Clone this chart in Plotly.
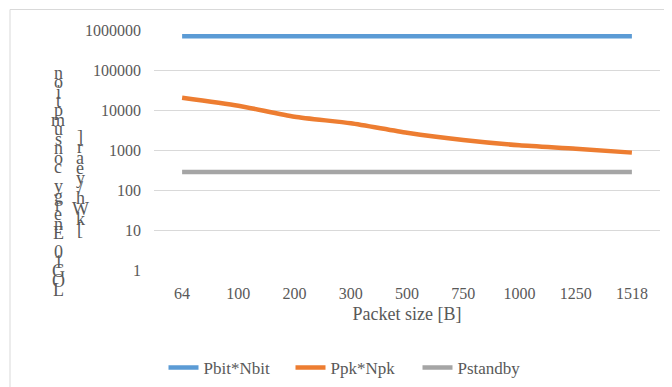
import plotly.graph_objects as go

categories = ["64", "100", "200", "300", "500", "750", "1000", "1250", "1518"]
pbit_nbit = [700000, 700000, 700000, 700000, 700000, 700000, 700000, 700000, 700000]
ppk_npk = [20300, 12800, 6800, 4650, 2700, 1780, 1310, 1080, 860]
pstandby = [282, 282, 282, 282, 282, 282, 282, 282, 282]
y_tick_vals = [1, 10, 100, 1000, 10000, 100000, 1000000]
y_tick_text = ["1", "10", "100", "1000", "10000", "100000", "1000000"]
y_title_1 = "LOG10 Energy consumption"
y_title_2 = "[kWh/year]"
x_title = "Packet size [B]"

# page body has an 8px default margin; figure size compensates for it
OFF = 8
W, H = 672 - OFF, 387 - OFF
ML, MR, MT, MB = 154 - OFF, 12, 30 - OFF, 117
PW, PH = W - ML - MR, H - MT - MB

def px(x):  # page pixel x -> paper
    return (x - OFF - ML) / PW

def py(y):  # page pixel y -> paper
    return (H - MB - (y - OFF)) / PH

FONT = "Liberation Serif"
GREY = "#595959"

fig = go.Figure()
fig.add_trace(go.Scatter(x=categories, y=pbit_nbit, mode="lines", name="Pbit*Nbit",
                         line=dict(color="#5B9BD5", width=4.5)))
fig.add_trace(go.Scatter(x=categories, y=ppk_npk, mode="lines", name="Ppk*Npk",
                         line=dict(color="#ED7D31", width=4.5, shape="spline", smoothing=0.6)))
fig.add_trace(go.Scatter(x=categories, y=pstandby, mode="lines", name="Pstandby",
                         line=dict(color="#A5A5A5", width=4.5)))

annotations = []
# stacked vertical y-axis title (characters drawn bottom to top)
for i, ch in enumerate(y_title_1):
    annotations.append(dict(x=px(58), y=py(290 - i * 9.45), xref="paper", yref="paper",
                            text=ch, showarrow=False, xanchor="center", yanchor="middle",
                            font=dict(family=FONT, size=18, color=GREY)))
for i, ch in enumerate(y_title_2):
    annotations.append(dict(x=px(80), y=py(229 - i * 10.2), xref="paper", yref="paper",
                            text=ch, showarrow=False, xanchor="center", yanchor="middle",
                            font=dict(family=FONT, size=18, color=GREY)))

fig.update_layout(
    width=W, height=H,
    margin=dict(l=ML, r=MR, t=MT, b=MB, autoexpand=False),
    paper_bgcolor="white", plot_bgcolor="white",
    font=dict(family=FONT, color=GREY),
    showlegend=True,
    legend=dict(orientation="h", x=px(354), xanchor="center", y=py(368), yanchor="middle",
                font=dict(family=FONT, size=17, color=GREY), itemwidth=30,
                entrywidth=82, entrywidthmode="pixels",
                bgcolor="rgba(0,0,0,0)"),
    xaxis=dict(type="category", range=[-0.5, 8.5], showgrid=False, zeroline=False, showline=False,
               ticks="", ticklabelstandoff=12, automargin=False,
               tickfont=dict(family=FONT, size=16, color=GREY),
               title=dict(text=x_title, font=dict(family=FONT, size=18, color=GREY), standoff=6)),
    yaxis=dict(type="log", range=[0, 6], tickvals=y_tick_vals, ticktext=y_tick_text,
               showgrid=True, gridcolor="#D9D9D9", gridwidth=1, zeroline=False, showline=False,
               ticks="", ticklabelstandoff=12, automargin=False,
               tickfont=dict(family=FONT, size=16, color=GREY)),
    annotations=annotations,
    shapes=[dict(type="rect", xref="paper", yref="paper", x0=px(10), x1=px(700),
                 y0=py(420), y1=py(9.5), line=dict(color="#D9D9D9", width=1),
                 fillcolor="rgba(0,0,0,0)", layer="below")],
)

fig.write_html("out.html")
